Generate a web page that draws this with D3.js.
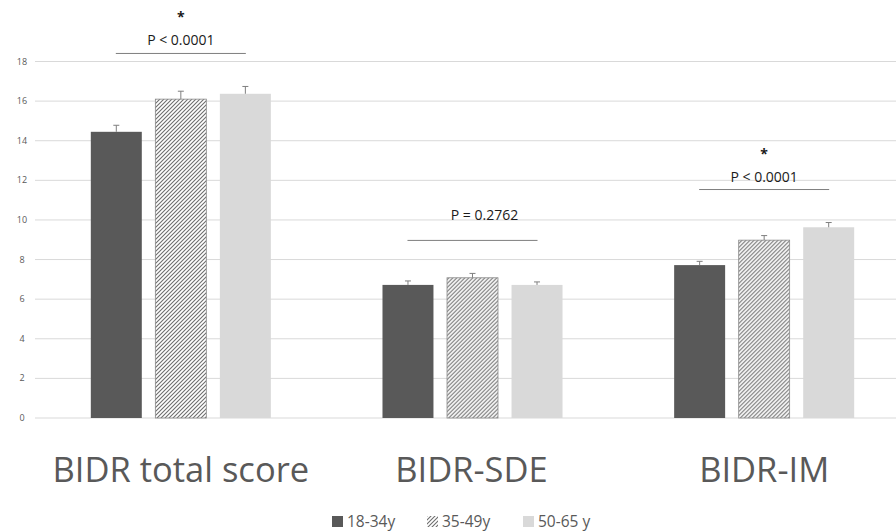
<!DOCTYPE html>
<html>
<head>
<meta charset="utf-8">
<script src="https://cdn.jsdelivr.net/npm/d3@7/dist/d3.min.js"></script>
<style>
  html, body { margin: 0; padding: 0; background: #fff; }
  svg { display: block; font-family: "Open Sans", "Liberation Sans", sans-serif; }
</style>
</head>
<body>
<div id="chart"></div>
<script>
const categories = ["BIDR total score", "BIDR-SDE", "BIDR-IM"];
const ageGroups = ["18-34y", "35-49y", "50-65 y"];
const means = [
  [14.45, 16.1, 16.37],
  [6.72, 7.08, 6.72],
  [7.72, 8.98, 9.63]
];
const errors = [
  [0.33, 0.4, 0.37],
  [0.2, 0.22, 0.15],
  [0.19, 0.23, 0.24]
];
const pLabels = ["P < 0.0001", "P = 0.2762", "P < 0.0001"];
const stars = ["*", "", "*"];
const yTicks = [0, 2, 4, 6, 8, 10, 12, 14, 16, 18];

const width = 896, height = 531;
const svg = d3.select("#chart").append("svg")
  .attr("width", width).attr("height", height);

const defs = svg.append("defs");
const pat = defs.append("pattern")
  .attr("id", "hatch")
  .attr("patternUnits", "userSpaceOnUse")
  .attr("width", 4).attr("height", 4);
pat.append("rect").attr("width", 4).attr("height", 4).attr("fill", "#fff");
pat.append("path")
  .attr("d", "M-1,1 l2,-2 M0,4 l4,-4 M3,5 l2,-2")
  .attr("stroke", "#6e6e6e").attr("stroke-width", 1.1);

const fills = ["#595959", "url(#hatch)", "#d9d9d9"];
const strokes = ["none", "#8a8a8a", "none"];

const y = d3.scaleLinear().domain([0, 18]).range([418, 61.5]);
const x0 = d3.scaleBand().domain(categories).range([35, 910]).padding(0);
const x1 = d3.scaleBand().domain(ageGroups).range([0, x0.bandwidth()])
  .paddingInner(0.21).paddingOuter(0.865);

// grid
svg.append("g").selectAll("line").data(yTicks).join("line")
  .attr("x1", 35).attr("x2", width)
  .attr("y1", d => y(d)).attr("y2", d => y(d))
  .attr("stroke", "#d9d9d9").attr("stroke-width", 1);

svg.append("g").selectAll("text").data(yTicks).join("text")
  .attr("x", 22).attr("y", d => y(d) + 3)
  .attr("text-anchor", "middle")
  .attr("font-size", 9).attr("fill", "#595959")
  .text(d => d);

// bars
const groups = svg.append("g").selectAll("g").data(categories).join("g")
  .attr("transform", d => `translate(${x0(d)},0)`);

groups.each(function(cat, ci) {
  const g = d3.select(this);
  ageGroups.forEach((ag, si) => {
    const v = means[ci][si], e = errors[ci][si];
    const bx = x1(ag), bw = x1.bandwidth();
    g.append("rect")
      .attr("x", bx).attr("width", bw)
      .attr("y", y(v)).attr("height", y(0) - y(v))
      .attr("fill", fills[si])
      .attr("stroke", strokes[si]).attr("stroke-width", 0.8);
    const cx = bx + bw / 2;
    g.append("line").attr("x1", cx).attr("x2", cx)
      .attr("y1", y(v)).attr("y2", y(v + e))
      .attr("stroke", "#7f7f7f").attr("stroke-width", 1);
    g.append("line").attr("x1", cx - 3).attr("x2", cx + 3)
      .attr("y1", y(v + e)).attr("y2", y(v + e))
      .attr("stroke", "#7f7f7f").attr("stroke-width", 1);
  });

  // significance bracket
  const first = x1(ageGroups[0]), last = x1(ageGroups[2]) + x1.bandwidth();
  const top = d3.max(means[ci].map((m, i) => m + errors[ci][i]));
  const lineY = y(top) - 33;
  g.append("line")
    .attr("x1", first + 25).attr("x2", last - 25)
    .attr("y1", lineY).attr("y2", lineY)
    .attr("stroke", "#7f7f7f").attr("stroke-width", 1);
  const mid = x1(ageGroups[1]) + x1.bandwidth() / 2;
  g.append("text")
    .attr("x", mid + (ci === 1 ? 12 : 0)).attr("y", lineY - (ci === 1 ? 20 : 8))
    .attr("text-anchor", "middle").attr("font-size", 14).attr("fill", "#1a1a1a")
    .text(pLabels[ci]);
  if (stars[ci]) {
    g.append("text")
      .attr("x", mid).attr("y", lineY - 31)
      .attr("text-anchor", "middle").attr("font-size", 14).attr("font-weight", "bold")
      .attr("fill", "#1a1a1a")
      .text(stars[ci]);
  }
});

// category labels
svg.append("g").selectAll("text").data(categories).join("text")
  .attr("x", (d, i) => x0(d) + x1(ageGroups[1]) + x1.bandwidth() / 2 + [0, -1, 0][i])
  .attr("y", 482)
  .attr("text-anchor", "middle")
  .attr("font-size", 34.5).attr("fill", "#595959")
  .text(d => d);

// legend
const legendX = [332, 427, 523];
const leg = svg.append("g").selectAll("g").data(ageGroups).join("g")
  .attr("transform", (d, i) => `translate(${legendX[i]},516)`);
leg.append("rect").attr("width", 11).attr("height", 11)
  .attr("fill", (d, i) => fills[i]);
leg.append("text").attr("x", 15).attr("y", 11)
  .attr("font-size", 15.5).attr("fill", "#595959")
  .text(d => d);
</script>
</body>
</html>
